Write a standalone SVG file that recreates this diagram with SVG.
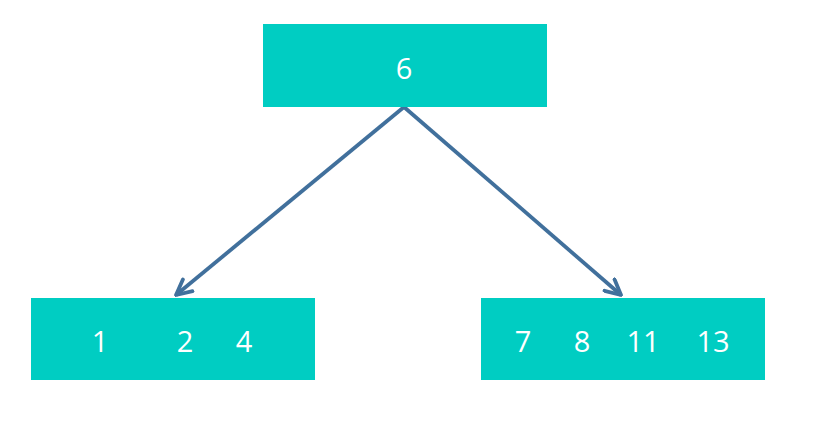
<svg xmlns="http://www.w3.org/2000/svg" width="821" height="421" viewBox="0 0 821 421">
<style>
.box{fill:#00CDC2}
.t{font-family:"Open Sans","Liberation Sans",sans-serif;font-size:29px;fill:#fff;text-anchor:middle}
.c{stroke:#41709C;stroke-width:3.8;fill:none}
</style>
<defs>
<marker id="ah" viewBox="0 0 10 10" refX="9" refY="5" markerWidth="5" markerHeight="5" orient="auto" markerUnits="strokeWidth">
<path d="M1,1 L9,5 L1,9" fill="none" stroke="#41709C" stroke-width="2" stroke-linecap="round" stroke-linejoin="round"/>
</marker>
</defs>
<rect width="821" height="421" fill="#fff"/>
<g id="connectors">
<line class="c" x1="404" y1="107" x2="176" y2="295" marker-end="url(#ah)"/>
<line class="c" x1="404" y1="107" x2="621" y2="295" marker-end="url(#ah)"/>
</g>
<g id="root">
<rect class="box" x="263" y="24" width="284" height="83"/>
<text class="t" x="404" y="79">6</text>
</g>
<g id="left">
<rect class="box" x="31" y="298" width="284" height="82"/>
<text class="t" x="100" y="352">1</text>
<text class="t" x="185" y="352">2</text>
<text class="t" x="244" y="352">4</text>
</g>
<g id="right">
<rect class="box" x="481" y="298" width="284" height="82"/>
<text class="t" x="523" y="352">7</text>
<text class="t" x="582" y="352">8</text>
<text class="t" x="643" y="352">11</text>
<text class="t" x="713" y="352">13</text>
</g>
</svg>
